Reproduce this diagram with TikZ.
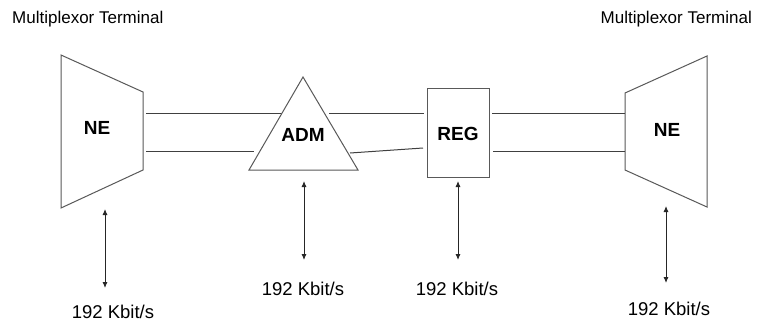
\documentclass[tikz,border=0pt]{standalone}
\usepackage{fontspec}
\setmainfont{Liberation Sans}
\usetikzlibrary{arrows.meta}
\tikzset{
  shapeline/.style={draw=black!65, line width=1pt, fill=white},
  link/.style={draw=black!75, line width=1pt},
  tagtext/.style={font=\fontsize{19}{22}\selectfont\bfseries, inner sep=0pt},
  ratetext/.style={font=\fontsize{18.5}{22}\selectfont, inner sep=0pt, anchor=base},
  termtext/.style={font=\fontsize{17}{20}\selectfont, inner sep=0pt},
  biarrow/.style={draw=black!85, line width=0.9pt, {Latex[length=6pt,width=5pt]}-{Latex[length=6pt,width=5pt]}},
  regbox/.style={shapeline, minimum width=62pt, minimum height=89pt, inner sep=0pt}
}
\begin{document}
\begin{tikzpicture}[x=1pt,y=-1pt]
\useasboundingbox[fill=white] (0,0) rectangle (757,322);

% terminal captions
\node[termtext, anchor=base west] (capL) at (12,23) {Multiplexor Terminal};
\node[termtext, anchor=base east] (capR) at (752,23) {Multiplexor Terminal};

% left NE trapezoid
\coordinate (L1) at (61,55);
\coordinate (L2) at (143,92);
\coordinate (L3) at (143,170);
\coordinate (L4) at (61,208);
\draw[shapeline] (L1) -- (L2) -- (L3) -- (L4) -- cycle;
\node[tagtext] (neL) at (97,128) {NE};

% right NE trapezoid
\coordinate (R1) at (625,93);
\coordinate (R2) at (707,56);
\coordinate (R3) at (707,207);
\coordinate (R4) at (625,170);
\draw[shapeline] (R1) -- (R2) -- (R3) -- (R4) -- cycle;
\node[tagtext] (neR) at (667,130) {NE};

% REG box
\node[regbox] (reg) at (458,132.5) {};
\node[tagtext] (regT) at (458,134) {REG};

% ADM triangle
\coordinate (A1) at (303,77);
\coordinate (A2) at (358,170);
\coordinate (A3) at (249,170);

% connection ports
\coordinate (pL1) at (146,113);
\coordinate (pL2) at (146,151);
\coordinate (tA1) at (282,113);
\coordinate (tA2) at (254,151);
\coordinate (tB1) at (329,113);
\coordinate (tB2) at (350,153);
\coordinate (rI1) at (424,113);
\coordinate (rI2) at (423,148);
\coordinate (rO1) at (492,113);
\coordinate (rO2) at (493,151);
\coordinate (pR1) at (625,113);
\coordinate (pR2) at (625,151);

\draw[link] (pL1) -- (tA1);
\draw[link] (pL2) -- (tA2);
\draw[link] (tB1) -- (rI1);
\draw[link] (tB2) -- (rI2);
\draw[link] (rO1) -- (pR1);
\draw[link] (rO2) -- (pR2);

\draw[shapeline] (A1) -- (A2) -- (A3) -- cycle;
\node[tagtext] (adm) at (303,135) {ADM};

% tributary arrows and rates
\node[ratetext] (rate1) at (113,318) {192 Kbit/s};
\node[ratetext] (rate2) at (303,295) {192 Kbit/s};
\node[ratetext] (rate3) at (457,295) {192 Kbit/s};
\node[ratetext] (rate4) at (669,315) {192 Kbit/s};

\coordinate (a1t) at (105,209);
\coordinate (a1b) at (105,288);
\coordinate (a2t) at (304,181);
\coordinate (a2b) at (304,260);
\coordinate (a3t) at (458,181);
\coordinate (a3b) at (458,260);
\coordinate (a4t) at (666,206);
\coordinate (a4b) at (666,283);
\draw[biarrow] (a1t) -- (a1b);
\draw[biarrow] (a2t) -- (a2b);
\draw[biarrow] (a3t) -- (a3b);
\draw[biarrow] (a4t) -- (a4b);
\end{tikzpicture}
\end{document}
